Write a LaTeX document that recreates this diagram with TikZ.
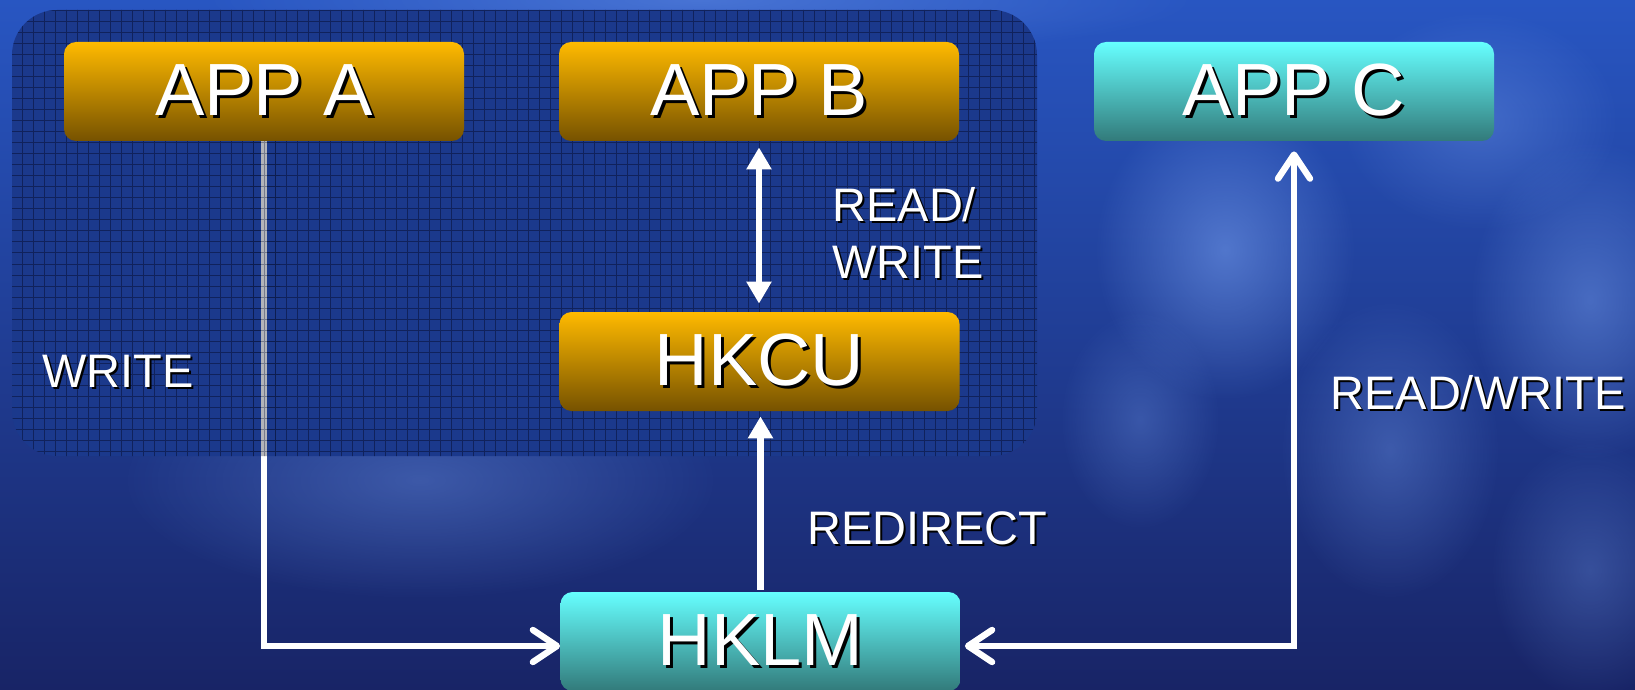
\documentclass[tikz,border=0pt]{standalone}
\usepackage{fontspec}
\setmainfont{Liberation Sans}
\usetikzlibrary{arrows.meta,calc,fadings}
\definecolor{bgtop}{RGB}{40,86,194}
\definecolor{bgbot}{RGB}{24,36,102}
\definecolor{bokeh}{RGB}{120,160,240}
\definecolor{regfill}{RGB}{27,57,140}
\definecolor{reggrid}{RGB}{10,20,60}
\definecolor{orgtop}{RGB}{255,186,0}
\definecolor{orgmid}{RGB}{214,146,0}
\definecolor{orgbot}{RGB}{118,82,0}
\definecolor{cyntop}{RGB}{102,255,255}
\definecolor{cynmid}{RGB}{78,196,196}
\definecolor{cynbot}{RGB}{50,122,122}
\definecolor{greyline}{RGB}{180,180,185}
\tikzfading[name=softglow, inner color=transparent!0, outer color=transparent!100]
\newcommand\shadowtxt[2]{\leavevmode\rlap{\kern#1\raisebox{-#1}{\color{black}#2}}#2}
\tikzset{
  box/.style={rounded corners=6pt, minimum width=200pt, minimum height=49.5pt,
    inner sep=0pt, text=white, font=\fontsize{37}{40}\selectfont},
  orangebox/.style={box, top color=orgtop, middle color=orgmid, bottom color=orgbot},
  cyanbox/.style={box, top color=cyntop, middle color=cynmid, bottom color=cynbot},
  lbl/.style={text=white, font=\fontsize{23.5}{28.5}\selectfont, inner sep=0pt, align=left},
  conn/.style={white, line width=3.2pt},
  glow/.style={bokeh, path fading=softglow},
  chev/.tip={Straight Barb[length=12pt,width=16pt,round]},
  tri/.tip={Triangle[length=11pt,width=12pt]},
}
\begin{document}
\begin{tikzpicture}[x=0.5pt,y=-0.5pt]
\useasboundingbox (0,0) rectangle (1635,690);
% background
\shade[top color=bgtop, bottom color=bgbot] (0,0) rectangle (1635,690);
\fill[glow, fill opacity=0.55] (1225,250) ellipse (130 and 150);
\fill[glow, fill opacity=0.35] (1390,450) ellipse (110 and 150);
\fill[glow, fill opacity=0.45] (1590,300) ellipse (120 and 160);
\fill[glow, fill opacity=0.30] (1590,570) ellipse (100 and 130);
\fill[glow, fill opacity=0.30] (1140,420) ellipse (80 and 110);
\fill[glow, fill opacity=0.35] (1480,120) ellipse (140 and 110);
\fill[glow, fill opacity=0.35] (420,480) ellipse (300 and 120);
\fill[glow, fill opacity=0.40] (700,0) ellipse (500 and 60);
% dark textured region
\fill[regfill, rounded corners=22.5pt] (12,10) rectangle (1037,456);
\begin{scope}
  \clip[rounded corners=22.5pt] (12,10) rectangle (1037,456);
  \draw[reggrid, line width=0.5pt, opacity=0.6, step=5.5pt] (0,500) grid (1100,0);
\end{scope}
% boxes
\node[orangebox] (appa) at (264,91.5) {\shadowtxt{1.5pt}{APP A}};
\node[orangebox] (appb) at (759,91.5) {\shadowtxt{1.5pt}{APP B}};
\node[orangebox] (hkcu) at (759.5,361.5) {\shadowtxt{1.5pt}{HKCU}};
\node[cyanbox] (appc) at (1294,91.5) {\shadowtxt{1.5pt}{APP C}};
\node[cyanbox] (hklm) at (760.5,641.5) {\shadowtxt{1.5pt}{HKLM}};
% labels
\node[lbl, anchor=west] (lwrite) at (42,372) {\shadowtxt{1pt}{WRITE}};
\node[lbl, anchor=west] (lrwb) at (832,233.5) {\shadowtxt{1pt}{READ/}\\\shadowtxt{1pt}{WRITE}};
\node[lbl, anchor=west] (lredir) at (807,529) {\shadowtxt{1pt}{REDIRECT}};
\node[lbl, anchor=west] (lrwc) at (1330,394) {\shadowtxt{1pt}{READ/WRITE}};
% connectors
\draw[conn, -{chev}] (appa.south) |- ($(hklm.west)+(0,4.5)$);
\begin{scope}
  \clip[rounded corners=22.5pt] (12,10) rectangle (1037,456);
  \draw[conn, color=greyline] (appa.south) |- ($(hklm.west)+(0,4.5)$);
  \clip (250,460) rectangle (280,142);
  \draw[reggrid, line width=0.5pt, opacity=0.35, step=5.5pt] (0,500) grid (1100,0);
\end{scope}
\draw[conn, {tri}-{tri}, shorten <=3pt, shorten >=4pt] (appb.south) -- (appb.south |- hkcu.north);
\draw[conn, -{tri}, shorten <=1pt, shorten >=2.5pt] (hklm.north) -- (hklm.north |- hkcu.south);
\draw[conn, {chev}-{chev}, shorten <=2pt, shorten >=5pt] ($(hklm.east)+(0,4.5)$) -| (appc.south);
\end{tikzpicture}
\end{document}
